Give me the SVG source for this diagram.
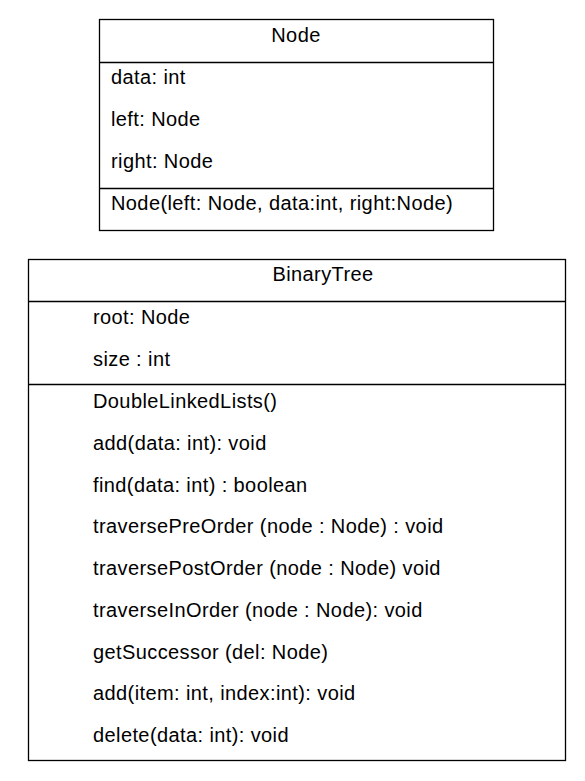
<svg xmlns="http://www.w3.org/2000/svg" width="585" height="781" viewBox="0 0 585 781">
<style>
.box{fill:#fff;stroke:#000;stroke-width:1.3}
.ln{stroke:#000;stroke-width:1.3}
text{font-family:"Liberation Sans",Arial,sans-serif;font-size:20px;letter-spacing:0.4px;fill:#000}
.c{text-anchor:middle}
</style>
<rect width="585" height="781" fill="#fff"/>
<g id="node-Node">
<rect class="box" x="99.5" y="19.5" width="394" height="211"/>
<line class="ln" x1="99.5" y1="62.5" x2="493.5" y2="62.5"/>
<line class="ln" x1="99.5" y1="188.5" x2="493.5" y2="188.5"/>
<text class="c" x="296" y="42">Node</text>
<text x="111" y="84">data: int</text>
<text x="111" y="126">left: Node</text>
<text x="111" y="168">right: Node</text>
<text x="111" y="210">Node(left: Node, data:int, right:Node)</text>
</g>
<g id="node-BinaryTree">
<rect class="box" x="28.5" y="259.5" width="537" height="501"/>
<line class="ln" x1="28.5" y1="301.5" x2="565.5" y2="301.5"/>
<line class="ln" x1="28.5" y1="384.5" x2="565.5" y2="384.5"/>
<text class="c" x="323" y="281">BinaryTree</text>
<text x="93" y="324">root: Node</text>
<text x="93" y="366">size : int</text>
<text x="93" y="408">DoubleLinkedLists()</text>
<text x="93" y="450">add(data: int): void</text>
<text x="93" y="492">find(data: int) : boolean</text>
<text x="93" y="533">traversePreOrder (node : Node) : void</text>
<text x="93" y="575">traversePostOrder (node : Node) void</text>
<text x="93" y="617">traverseInOrder (node : Node): void</text>
<text x="93" y="659">getSuccessor (del: Node)</text>
<text x="93" y="700">add(item: int, index:int): void</text>
<text x="93" y="742">delete(data: int): void</text>
</g>
<g id="connectors"/>
</svg>
